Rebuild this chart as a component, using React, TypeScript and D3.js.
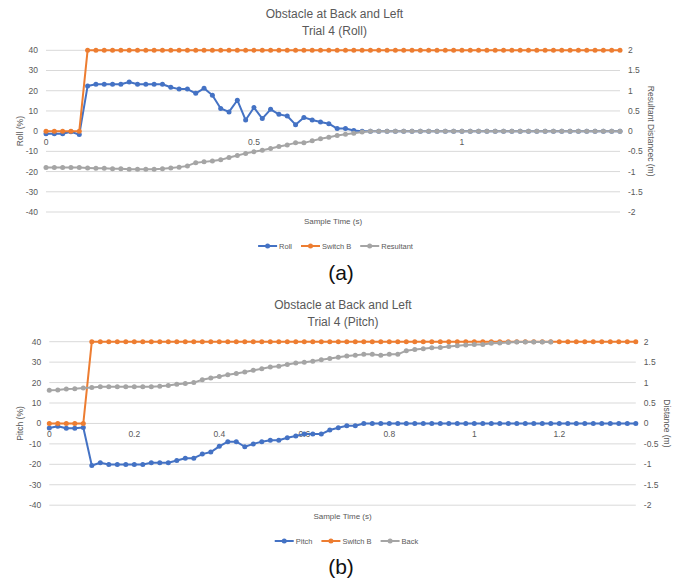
import React, { useEffect, useRef } from 'react';
import * as d3 from 'd3';

// sample times (s), shared by both trials
const sampleTime = [
  0, 0.02, 0.04, 0.06, 0.08, 0.1, 0.12, 0.14, 0.16, 0.18,
  0.2, 0.22, 0.24, 0.26, 0.28, 0.3, 0.32, 0.34, 0.36, 0.38,
  0.4, 0.42, 0.44, 0.46, 0.48, 0.5, 0.52, 0.54, 0.56, 0.58,
  0.6, 0.62, 0.64, 0.66, 0.68, 0.7, 0.72, 0.74, 0.76, 0.78,
  0.8, 0.82, 0.84, 0.86, 0.88, 0.9, 0.92, 0.94, 0.96, 0.98,
  1, 1.02, 1.04, 1.06, 1.08, 1.1, 1.12, 1.14, 1.16, 1.18,
  1.2, 1.22, 1.24, 1.26, 1.28, 1.3, 1.32, 1.34, 1.36, 1.38,
];

// (a) roll trial
const roll = [
  -1.3, -1.3, -1.3, -0.3, -1.7, 22.3, 23.2, 23.2, 23.2, 23.2,
  24.3, 23.2, 23.2, 23.2, 23.2, 21.7, 20.8, 20.8, 18.7, 21.2,
  17.8, 11.2, 9.5, 15.3, 5.5, 11.7, 6.2, 10.8, 8.3, 7.5,
  3.2, 6.8, 5.5, 4.5, 3.7, 1.3, 1.3, 0.3, 0, 0,
  0, 0, 0, 0, 0, 0, 0, 0, 0, 0,
  0, 0, 0, 0, 0, 0, 0, 0, 0, 0,
  0, 0, 0, 0, 0, 0, 0, 0, 0, 0,
];
const switchBRoll = [
  0, 0, 0, 0, 0, 2, 2, 2, 2, 2,
  2, 2, 2, 2, 2, 2, 2, 2, 2, 2,
  2, 2, 2, 2, 2, 2, 2, 2, 2, 2,
  2, 2, 2, 2, 2, 2, 2, 2, 2, 2,
  2, 2, 2, 2, 2, 2, 2, 2, 2, 2,
  2, 2, 2, 2, 2, 2, 2, 2, 2, 2,
  2, 2, 2, 2, 2, 2, 2, 2, 2, 2,
];
const resultant = [
  -0.9, -0.9, -0.9, -0.9, -0.9, -0.91, -0.92, -0.92, -0.93, -0.93,
  -0.94, -0.94, -0.94, -0.94, -0.93, -0.91, -0.89, -0.86, -0.78, -0.76,
  -0.74, -0.71, -0.65, -0.6, -0.55, -0.51, -0.47, -0.43, -0.38, -0.34,
  -0.29, -0.29, -0.24, -0.19, -0.15, -0.11, -0.075, -0.05, -0.02, 0,
  0, 0, 0, 0, 0, 0, 0, 0, 0, 0,
  0, 0, 0, 0, 0, 0, 0, 0, 0, 0,
  0, 0, 0, 0, 0, 0, 0, 0, 0, 0,
];

// (b) pitch trial
const pitch = [
  -2.2, -1.4, -2.3, -2.3, -2.0, -20.6, -19.2, -20.1, -20.1, -20.1,
  -20.1, -20.1, -19.2, -19.2, -19.2, -18.1, -17, -17, -15, -14,
  -11.2, -8.9, -8.9, -11.4, -10, -8.9, -8.2, -8.2, -7, -6.1,
  -5.2, -5.2, -5.2, -3.2, -2.1, -1.1, -1.1, 0, 0, 0,
  0, 0, 0, 0, 0, 0, 0, 0, 0, 0,
  0, 0, 0, 0, 0, 0, 0, 0, 0, 0,
  0, 0, 0, 0, 0, 0, 0, 0, 0, 0,
];
const switchBPitch = switchBRoll;
const back = [
  0.81, 0.82, 0.84, 0.85, 0.87, 0.88, 0.9, 0.9, 0.9, 0.9,
  0.9, 0.9, 0.9, 0.91, 0.93, 0.96, 0.98, 1.0, 1.07, 1.11,
  1.15, 1.19, 1.22, 1.26, 1.3, 1.34, 1.38, 1.4, 1.44, 1.48,
  1.5, 1.52, 1.56, 1.59, 1.62, 1.65, 1.67, 1.69, 1.69, 1.67,
  1.69, 1.69, 1.78, 1.81, 1.83, 1.85, 1.86, 1.88, 1.9, 1.92,
  1.93, 1.93, 1.96, 1.97, 1.98, 1.99, 1.99, 1.99, 1.99, 1.99,
  null, null, null, null, null, null, null, null, null, null,
];

const percentTicks = [40, 30, 20, 10, 0, -10, -20, -30, -40];
const distanceTicks = [2, 1.5, 1, 0.5, 0, -0.5, -1, -1.5, -2];
const rollTimeTicks = [0, 0.5, 1];
const pitchTimeTicks = [0, 0.2, 0.4, 0.6, 0.8, 1, 1.2];

const BLUE = '#4472c4';
const ORANGE = '#ed7d31';
const GRAY = '#a5a5a5';
const TEXT = '#595959';
const FONT = '"Liberation Sans", Arial, sans-serif';

type Series = { name: string; values: (number | null)[]; color: string; axis: 'left' | 'right' };

type Panel = {
  title: string[];
  titleX: number;
  titleY: number;
  top: number;
  bottom: number;
  left: number;
  right: number;
  timeTicks: number[];
  leftTitle: string;
  rightTitle: string;
  rightTitleX: number;
  xTitleY: number;
  legendX: number;
  legendY: number;
  caption: string;
  captionY: number;
  series: Series[];
};

const panels: Panel[] = [
  {
    title: ['Obstacle at Back and Left', 'Trial 4 (Roll)'],
    titleX: 334.5,
    titleY: 18,
    top: 50.3,
    bottom: 212,
    left: 46,
    right: 620,
    timeTicks: rollTimeTicks,
    leftTitle: 'Roll (%)',
    rightTitle: 'Resultant Distancec (m)',
    rightTitleX: 651,
    xTitleY: 224,
    legendX: 335.5,
    legendY: 246,
    caption: '(a)',
    captionY: 280,
    series: [
      { name: 'Roll', values: roll, color: BLUE, axis: 'left' },
      { name: 'Switch B', values: switchBRoll, color: ORANGE, axis: 'right' },
      { name: 'Resultant', values: resultant, color: GRAY, axis: 'right' },
    ],
  },
  {
    title: ['Obstacle at Back and Left', 'Trial 4 (Pitch)'],
    titleX: 343,
    titleY: 309,
    top: 341.7,
    bottom: 505.2,
    left: 49.3,
    right: 635.8,
    timeTicks: pitchTimeTicks,
    leftTitle: 'Pitch (%)',
    rightTitle: 'Distance (m)',
    rightTitleX: 667,
    xTitleY: 519,
    legendX: 346.5,
    legendY: 541,
    caption: '(b)',
    captionY: 574,
    series: [
      { name: 'Pitch', values: pitch, color: BLUE, axis: 'left' },
      { name: 'Switch B', values: switchBPitch, color: ORANGE, axis: 'right' },
      { name: 'Back', values: back, color: GRAY, axis: 'right' },
    ],
  },
];

const drawPanel = (svg: d3.Selection<SVGSVGElement, unknown, null, undefined>, p: Panel) => {
  const g = svg.append('g');
  const x = d3.scaleLinear().domain([0, 1.38]).range([p.left, p.right]);
  const yLeft = d3.scaleLinear().domain([-40, 40]).range([p.bottom, p.top]);
  const yRight = d3.scaleLinear().domain([-2, 2]).range([p.bottom, p.top]);

  // title
  p.title.forEach((line, i) => {
    g.append('text')
      .attr('x', p.titleX).attr('y', p.titleY + i * 16.5)
      .attr('text-anchor', 'middle')
      .style('font-size', '12px').style('fill', TEXT)
      .text(line);
  });

  // gridlines
  g.selectAll('.grid').data(percentTicks).enter().append('line')
    .attr('x1', p.left).attr('x2', p.right)
    .attr('y1', d => yLeft(d)).attr('y2', d => yLeft(d))
    .style('stroke', '#d9d9d9').style('stroke-width', 1);

  // left / right tick labels
  g.selectAll('.lt').data(percentTicks).enter().append('text')
    .attr('x', p.left - 8).attr('y', d => yLeft(d)).attr('dy', '0.35em')
    .attr('text-anchor', 'end')
    .style('font-size', '8.5px').style('fill', TEXT)
    .text(d => d);
  g.selectAll('.rt').data(distanceTicks).enter().append('text')
    .attr('x', p.right + 8).attr('y', d => yRight(d)).attr('dy', '0.35em')
    .style('font-size', '8.5px').style('fill', TEXT)
    .text(d => d);

  // time labels sit under the zero line
  g.selectAll('.xt').data(p.timeTicks).enter().append('text')
    .attr('x', d => x(d)).attr('y', yLeft(0) + 13.5)
    .attr('text-anchor', 'middle')
    .style('font-size', '8.5px').style('fill', TEXT)
    .text(d => d);

  // axis titles
  const midY = (p.top + p.bottom) / 2;
  g.append('text')
    .attr('transform', `translate(20, ${midY}) rotate(-90)`)
    .attr('dy', '0.35em').attr('text-anchor', 'middle')
    .style('font-size', '8.5px').style('fill', TEXT)
    .text(p.leftTitle);
  g.append('text')
    .attr('transform', `translate(${p.rightTitleX}, ${midY}) rotate(90)`)
    .attr('dy', '0.35em').attr('text-anchor', 'middle')
    .style('font-size', '8.5px').style('fill', TEXT)
    .text(p.rightTitle);
  g.append('text')
    .attr('x', (p.left + p.right) / 2).attr('y', p.xTitleY)
    .attr('text-anchor', 'middle')
    .style('font-size', '8px').style('fill', TEXT)
    .text('Sample Time (s)');

  // series
  p.series.forEach(s => {
    const y = s.axis === 'left' ? yLeft : yRight;
    const pts = s.values
      .map((v, i) => ({ t: sampleTime[i], v }))
      .filter(d => d.v !== null) as { t: number; v: number }[];
    const line = d3.line<{ t: number; v: number }>().x(d => x(d.t)).y(d => y(d.v));
    g.append('path').datum(pts)
      .attr('d', line)
      .style('fill', 'none').style('stroke', s.color)
      .style('stroke-width', 2).style('stroke-linejoin', 'round');
    g.selectAll(null).data(pts).enter().append('circle')
      .attr('cx', d => x(d.t)).attr('cy', d => y(d.v)).attr('r', 2.5)
      .style('fill', s.color);
  });

  // legend, centred
  const legend = g.append('g');
  let cursor = 0;
  p.series.forEach(s => {
    const item = legend.append('g').attr('transform', `translate(${cursor}, 0)`);
    item.append('line').attr('x1', 0).attr('x2', 19).attr('y1', 0).attr('y2', 0)
      .style('stroke', s.color).style('stroke-width', 2);
    item.append('circle').attr('cx', 9.5).attr('cy', 0).attr('r', 2.5).style('fill', s.color);
    const t = item.append('text').attr('x', 21).attr('dy', '0.35em')
      .style('font-size', '7.5px').style('fill', TEXT).text(s.name);
    const w = (t.node() as SVGTextElement).getComputedTextLength();
    cursor += 21 + w + 9;
  });
  const total = cursor - 9;
  legend.attr('transform', `translate(${p.legendX - total / 2}, ${p.legendY})`);

  // caption
  g.append('text')
    .attr('x', 341).attr('y', p.captionY)
    .attr('text-anchor', 'middle')
    .style('font-size', '21px').style('fill', '#111')
    .text(p.caption);
};

const App = () => {
  const svgRef = useRef<SVGSVGElement>(null);

  useEffect(() => {
    const svg = d3.select(svgRef.current as SVGSVGElement);
    svg.selectAll('*').remove();
    svg.style('font-family', FONT);
    panels.forEach(p => drawPanel(svg, p));
  }, []);

  return (
    <svg
      ref={svgRef}
      width={682}
      height={582}
      style={{ position: 'absolute', left: 0, top: 0, background: '#fff' }}
    />
  );
};

export default App;
